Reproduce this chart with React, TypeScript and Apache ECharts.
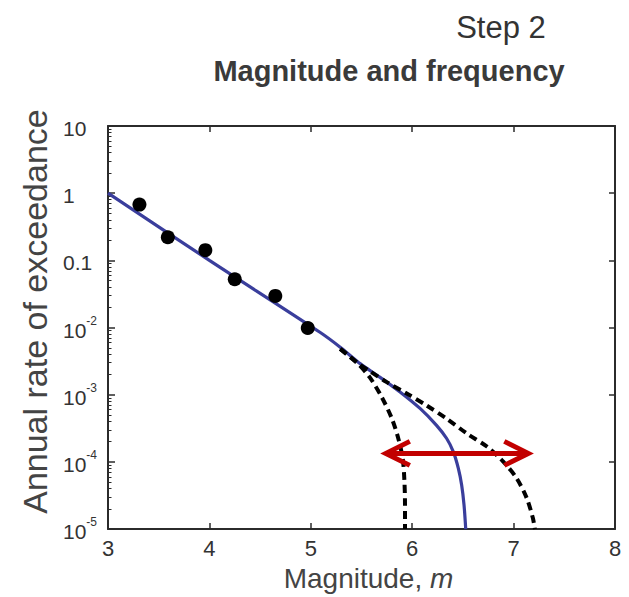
import React, { useEffect, useRef } from 'react';
import * as echarts from 'echarts';

// Observed catalogue points (magnitude, annual rate of exceedance)
const observedMagnitudes = [3.31, 3.59, 3.96, 4.25, 4.65, 4.97];
const observedRates = [0.676, 0.221, 0.142, 0.0524, 0.0296, 0.00984];

// Best-fit truncated recurrence curve (solid blue)
const bestFitMagnitudes = [3.0, 4.0, 5.09, 5.29, 5.49, 5.68, 5.88, 6.08, 6.24, 6.34, 6.405, 6.455, 6.488, 6.511, 6.528];
const bestFitRates = [1.0, 0.1, 8.5e-3, 5.1e-3, 2.88e-3, 1.83e-3, 1.1e-3, 6.2e-4, 3.5e-4, 2.23e-4, 1.42e-4, 8.0e-5, 4.5e-5, 2.3e-5, 1.0e-5];

// Lower alternative curve (dashed)
const lowerMagnitudes = [5.29, 5.45, 5.58, 5.7, 5.8, 5.863, 5.906, 5.922, 5.929, 5.929];
const lowerRates = [4.8e-3, 3.05e-3, 1.83e-3, 9.2e-4, 4.4e-4, 2.23e-4, 1.13e-4, 5.7e-5, 2.3e-5, 1.0e-5];

// Upper alternative curve (dashed)
const upperMagnitudes = [5.29, 5.45, 5.58, 5.75, 5.95, 6.14, 6.34, 6.54, 6.74, 6.9, 7.03, 7.13, 7.19, 7.21];
const upperRates = [4.8e-3, 3.05e-3, 2.25e-3, 1.54e-3, 1.035e-3, 6.95e-4, 4.4e-4, 2.64e-4, 1.68e-4, 1.0e-4, 5.7e-5, 2.88e-5, 1.46e-5, 1.0e-5];

// Double arrow showing the range of maximum magnitude
const arrowMagnitudes = [5.73, 7.155];
const arrowRate = 1.34e-4;

// Axis ticks
const xTickLabels = ['3', '4', '5', '6', '7', '8'];
const yTickExponents = [-5, -4, -3, -2, -1, 0, 1];
const yTickLabels = [['10', '-5'], ['10', '-4'], ['10', '-3'], ['10', '-2'], ['0.1', ''], ['1', ''], ['10', '']];

const FONT = "'Liberation Sans', Arial, Helvetica, sans-serif";
const TEXT = '#333333';
const AXIS = '#2b2b2b';
const BLUE = '#3a3e9c';
const RED = '#c20000';

const pairs = (xs: number[], ys: number[]) => xs.map((x, i) => [x, ys[i]]);

export default function App() {
  const ref = useRef<HTMLDivElement>(null);

  useEffect(() => {
    if (!ref.current) return;
    const chart = echarts.init(ref.current, undefined, { renderer: 'svg' });

    const minorTicks: number[] = [];
    for (let d = -5; d < 1; d++) {
      for (let k = 2; k <= 9; k++) minorTicks.push(d + Math.log10(k));
    }

    const axisLine = { show: true, onZero: false, lineStyle: { color: AXIS, width: 2 } };
    const tick = { show: true, inside: true, length: 6, lineStyle: { color: AXIS, width: 1.5 } };

    chart.setOption({
      animation: false,
      backgroundColor: '#ffffff',
      grid: { left: 108, right: 14, top: 126, bottom: 66, containLabel: false },
      graphic: [
        {
          type: 'text', x: 501, y: 27,
          style: { text: 'Step 2', fontSize: 31, fontFamily: FONT, fill: '#333', textAlign: 'center', textVerticalAlign: 'middle', align: 'center', verticalAlign: 'middle' },
        },
        {
          type: 'text', x: 389, y: 71,
          style: { text: 'Magnitude and frequency', fontSize: 29, fontWeight: 'bold', fontFamily: FONT, fill: '#3a3a3a', textAlign: 'center', textVerticalAlign: 'middle', align: 'center', verticalAlign: 'middle' },
        },
      ],
      xAxis: [
        {
          type: 'value', min: 3, max: 8, interval: 1, position: 'bottom',
          axisLine, axisTick: tick, splitLine: { show: false },
          axisLabel: {
            margin: 8, fontSize: 22, color: TEXT, fontFamily: FONT,
            formatter: (v: number) => xTickLabels[Math.round(v) - 3] ?? '',
          },
          name: '{a|Magnitude, }{i|m}', nameLocation: 'middle', nameGap: 33,
          nameTextStyle: {
            padding: [0, 0, 0, 14],
            rich: {
              a: { fontSize: 28, color: '#444', fontFamily: FONT },
              i: { fontSize: 28, color: '#444', fontFamily: FONT, fontStyle: 'italic' },
            },
          },
        },
        {
          type: 'value', min: 3, max: 8, interval: 1, position: 'top',
          axisLine, axisTick: tick, splitLine: { show: false }, axisLabel: { show: false },
        },
      ],
      yAxis: [
        {
          type: 'log', logBase: 10, min: 1e-5, max: 10, position: 'left',
          axisLine, axisTick: { ...tick, length: 7 }, splitLine: { show: false },
          axisLabel: {
            margin: 45, align: 'left', color: TEXT, fontFamily: FONT,
            formatter: (v: number) => {
              const e = Math.round(Math.log10(v));
              const idx = yTickExponents.indexOf(e);
              if (idx < 0) return '';
              const [b, s] = yTickLabels[idx];
              return s ? `{b|${b}}{s|${s}}` : `{b|${b}}`;
            },
            rich: {
              b: { fontSize: 21, lineHeight: 26, verticalAlign: 'bottom', color: TEXT, fontFamily: FONT },
              s: { fontSize: 12, lineHeight: 12, verticalAlign: 'top', color: TEXT, fontFamily: FONT },
            },
          },
          name: 'Annual rate of exceedance', nameLocation: 'middle', nameRotate: 90, nameGap: 50,
          nameTextStyle: { fontSize: 34, color: '#444', fontFamily: FONT, padding: [0, 0, 0, 32] },
        },
        {
          type: 'log', logBase: 10, min: 1e-5, max: 10, position: 'right',
          axisLine, axisTick: tick, splitLine: { show: false }, axisLabel: { show: false },
        },
        {
          type: 'value', min: -5, max: 1, position: 'left',
          axisLine: { show: false }, splitLine: { show: false }, axisLabel: { show: false },
          axisTick: { show: true, inside: true, length: 3.5, customValues: minorTicks, lineStyle: { color: AXIS, width: 1 } },
        },
      ],
      series: [
        {
          type: 'line', name: 'Best fit', xAxisIndex: 0, yAxisIndex: 0,
          data: pairs(bestFitMagnitudes, bestFitRates),
          showSymbol: false, symbol: 'none', smooth: 0.3, z: 2,
          lineStyle: { color: BLUE, width: 3.2 },
        },
        {
          type: 'line', name: 'Lower Mmax', xAxisIndex: 0, yAxisIndex: 0,
          data: pairs(lowerMagnitudes, lowerRates),
          showSymbol: false, symbol: 'none', smooth: 0.3, z: 3,
          lineStyle: { color: '#000', width: 4, type: [8, 5] },
        },
        {
          type: 'line', name: 'Upper Mmax', xAxisIndex: 0, yAxisIndex: 0,
          data: pairs(upperMagnitudes, upperRates),
          showSymbol: false, symbol: 'none', smooth: 0.3, z: 3,
          lineStyle: { color: '#000', width: 4, type: [8, 5] },
        },
        {
          type: 'scatter', name: 'Observed', xAxisIndex: 0, yAxisIndex: 0,
          data: pairs(observedMagnitudes, observedRates),
          symbol: 'circle', symbolSize: 14, z: 5,
          itemStyle: { color: '#000', opacity: 1 },
        },
        {
          type: 'custom', name: 'Range', xAxisIndex: 0, yAxisIndex: 0, z: 10,
          data: [[arrowMagnitudes[0], arrowRate, arrowMagnitudes[1]]],
          encode: { x: [0, 2], y: 1 },
          renderItem: (_params: any, api: any) => {
            const a = api.coord([api.value(0), api.value(1)]);
            const b = api.coord([api.value(2), api.value(1)]);
            const hx = 25;
            const hy = 12;
            const style = { stroke: RED, lineWidth: 5, fill: null, lineJoin: 'miter', lineCap: 'butt' };
            return {
              type: 'group',
              children: [
                { type: 'line', shape: { x1: a[0] + 2, y1: a[1], x2: b[0] - 2, y2: b[1] }, style },
                { type: 'polyline', shape: { points: [[a[0] + hx, a[1] - hy], [a[0] + 1, a[1]], [a[0] + hx, a[1] + hy]] }, style },
                { type: 'polyline', shape: { points: [[b[0] - hx, b[1] - hy], [b[0] - 1, b[1]], [b[0] - hx, b[1] + hy]] }, style },
              ],
            };
          },
        },
      ],
    });

    return () => chart.dispose();
  }, []);

  return <div ref={ref} style={{ position: 'absolute', left: 0, top: 0, width: 629, height: 597 }} />;
}
